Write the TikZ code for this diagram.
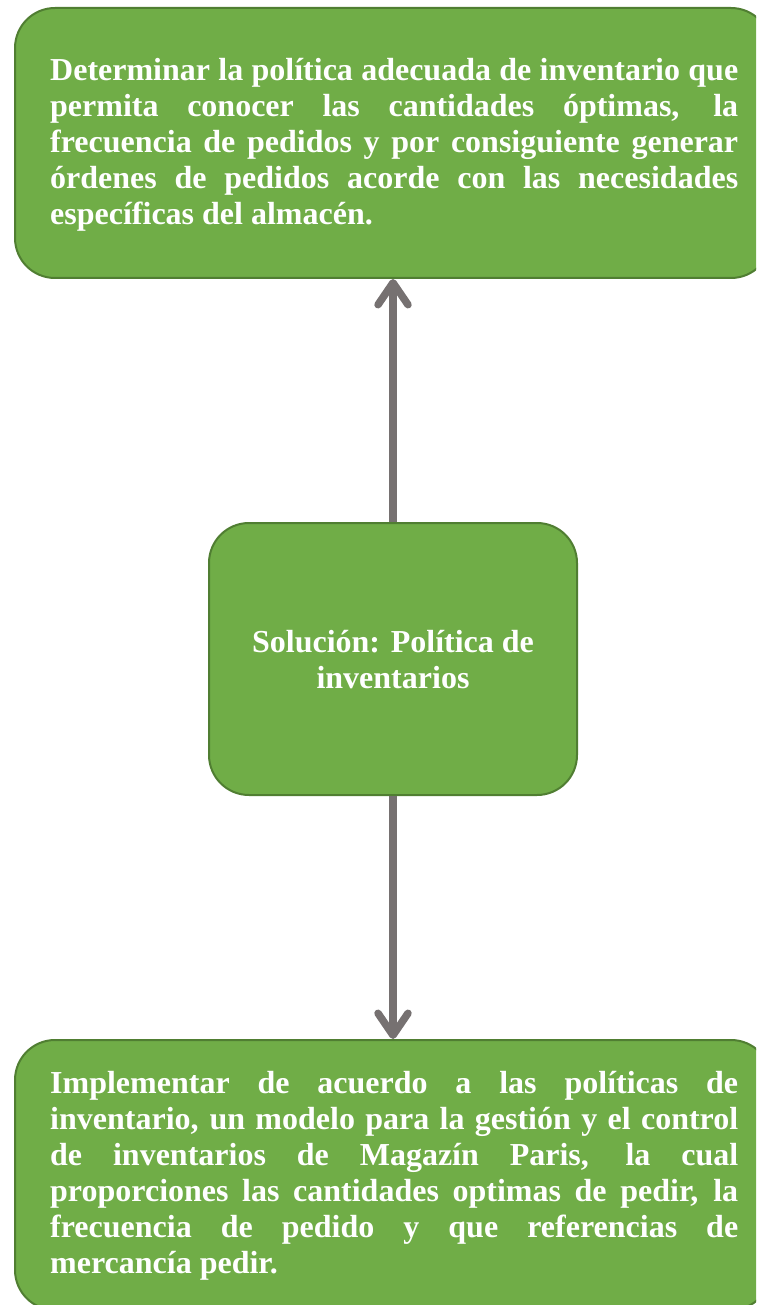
\documentclass[tikz,border=0pt]{standalone}
\usepackage{fontspec}
\setmainfont{Liberation Serif}
\usetikzlibrary{arrows.meta}

\definecolor{boxfill}{HTML}{70AD47}
\definecolor{boxline}{HTML}{507E32}
\definecolor{arrowgray}{HTML}{767171}

% justified white paragraph, baseline of the first line is the node's base
\newcommand{\boxpar}[1]{\parbox[t]{688pt}{\fontsize{32}{36}\selectfont\bfseries
  \hyphenpenalty=10000 \tolerance=10000 #1}}
\newcommand{\centerpar}[1]{\parbox[t]{368pt}{\fontsize{32}{36}\selectfont\bfseries
  \centering #1}}

\tikzset{
  panel/.style={draw=boxline, line width=2pt, fill=boxfill,
    rounded corners=40pt, inner sep=0pt},
  paneltext/.style={inner sep=0pt, text=white},
  link/.style={draw=arrowgray, line width=7.5pt,
    -{Straight Barb[length=22pt, width=30pt, round]}},
}

\begin{document}
\begin{tikzpicture}[x=1pt, y=-1pt]
  \useasboundingbox (0,0) rectangle (756,1305);
  \clip (0,0) rectangle (756,1305);

  % boxes
  \node[panel, minimum width=756pt, minimum height=270pt] (goal) at (393,143) {};
  \node[panel, minimum width=368pt, minimum height=272pt] (sol) at (393,659) {};
  \node[panel, minimum width=756pt, minimum height=270pt] (impl) at (393,1175) {};

  % texts
  \node[paneltext, anchor=base west] (goaltext) at (50,81) {\boxpar{%
    Determinar la política adecuada de inventario que\linebreak
    permita conocer las cantidades óptimas, la\linebreak
    frecuencia de pedidos y por consiguiente generar\linebreak
    órdenes de pedidos acorde con las necesidades\linebreak
    específicas del almacén.}};

  \node[paneltext, anchor=base] (soltext) at (393,652) {\centerpar{%
    Solución: Política de\\ inventarios}};

  \node[paneltext, anchor=base west] (impltext) at (50,1093) {\boxpar{%
    Implementar de acuerdo a las políticas de\linebreak
    inventario, un modelo para la gestión y el control\linebreak
    de inventarios de Magazín Paris, la cual\linebreak
    proporciones las cantidades optimas de pedir, la\linebreak
    frecuencia de pedido y que referencias de\linebreak
    mercancía pedir.}};

  % connectors
  \draw[link] (sol.north) -- (goal.south);
  \draw[link] (sol.south) -- (impl.north);
\end{tikzpicture}
\end{document}
